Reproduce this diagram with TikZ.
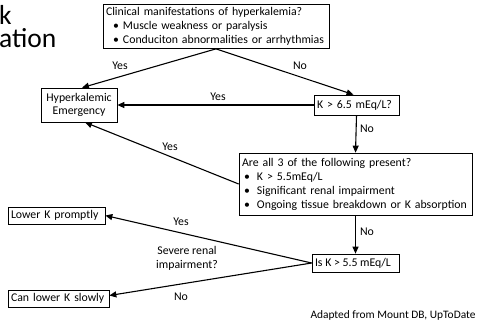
\documentclass[tikz,border=0pt]{standalone}
\usepackage{fontspec}
\setmainfont{Carlito}
\usetikzlibrary{arrows.meta}
\newcommand{\topbul}{\hspace*{7pt}\makebox[10pt][l]{•}}
\newcommand{\bigbul}{\hspace*{2pt}\makebox[13pt][l]{•}}
\begin{document}
\begin{tikzpicture}[x=1pt,y=-1pt,
  box/.style={draw, line width=0.7pt, inner ysep=0pt, inner xsep=3pt, font=\fontsize{11.8}{13.8}\selectfont},
  lbl/.style={font=\fontsize{11.8}{13.8}\selectfont, inner sep=0pt, align=center},
  arr/.style={line width=1.1pt, -{Triangle[length=7pt,width=6pt]}}]
\useasboundingbox (0,0) rectangle (481,325);
\clip (0,0) rectangle (481,325);
% clipped title (one text block, two lines)
\node[anchor=base west, inner sep=0pt, align=left, font=\fontsize{27.5}{22.5}\selectfont] (title) at (-1,47) {k\\at{}ion};
% boxes
\node[box, minimum width=226pt, minimum height=44pt, text width=220pt, align=left] (top) at (216,26.5)
 {Clinical manifestations of hyperkalemia?\\\topbul Muscle weakness or paralysis\\\topbul Conduciton abnormalities or arrhythmias};
\node[box, minimum width=76pt, minimum height=34pt, align=center] (hyp) at (79,105) {Hyperkalemic\\Emergency};
\node[box, minimum width=85pt, minimum height=20pt, text width=79pt, align=left] (k65) at (356.5,105) {K > 6.5 mEq/L?};
\node[box, minimum width=233pt, minimum height=62pt, text width=227pt, align=left, font=\fontsize{11.8}{14}\selectfont] (big) at (355.5,184)
 {Are all 3 of the following present?\\\bigbul K > 5.5mEq/L\\\bigbul Significant renal impairment\\\bigbul Ongoing tissue breakdown or K absorption};
\node[box, minimum width=87pt, minimum height=18pt, inner xsep=0pt] (isk) at (355.5,263) {\makebox[85pt][l]{\hspace*{2pt}Is K > 5.5 mEq/L}};
\node[box, minimum width=97pt, minimum height=17pt, text width=91pt, align=left] (low) at (56.5,215.5) {Lower K promptly};
\node[box, minimum width=101pt, minimum height=17pt, text width=95pt, align=left] (can) at (58.5,298.5) {Can lower K slowly};
% connectors
\draw[arr] (top.south) -- ([xshift=3pt]hyp.north);
\draw[arr] (top.south) -- ([xshift=-3pt]k65.north);
\draw[arr] (k65.west) -- (hyp.east);
\draw[arr] (k65.south) -- (big.north);
\draw[arr] (big.west) -- ([xshift=6pt]hyp.south);
\draw[arr] (big.south) -- (isk.north);
\draw[arr] (isk.west) -- (low.east);
\draw[arr] (isk.west) -- ([yshift=3pt]can.east);
% labels
\node[lbl] (l1) at (120,66) {Yes};
\node[lbl] (l2) at (300,66) {No};
\node[lbl] (l3) at (218,97) {Yes};
\node[lbl] (l4) at (367,129) {No};
\node[lbl] (l5) at (170,147) {Yes};
\node[lbl] (l6) at (367,232) {No};
\node[lbl] (l7) at (181,222) {Yes};
\node[lbl] (l8) at (187,258) {Severe renal\\impairment?};
\node[lbl] (l9) at (181,297) {No};
\node[lbl, font=\fontsize{11.4}{13}\selectfont] (src) at (393,315) {Adapted from Mount DB, UpToDate};
\end{tikzpicture}
\end{document}
